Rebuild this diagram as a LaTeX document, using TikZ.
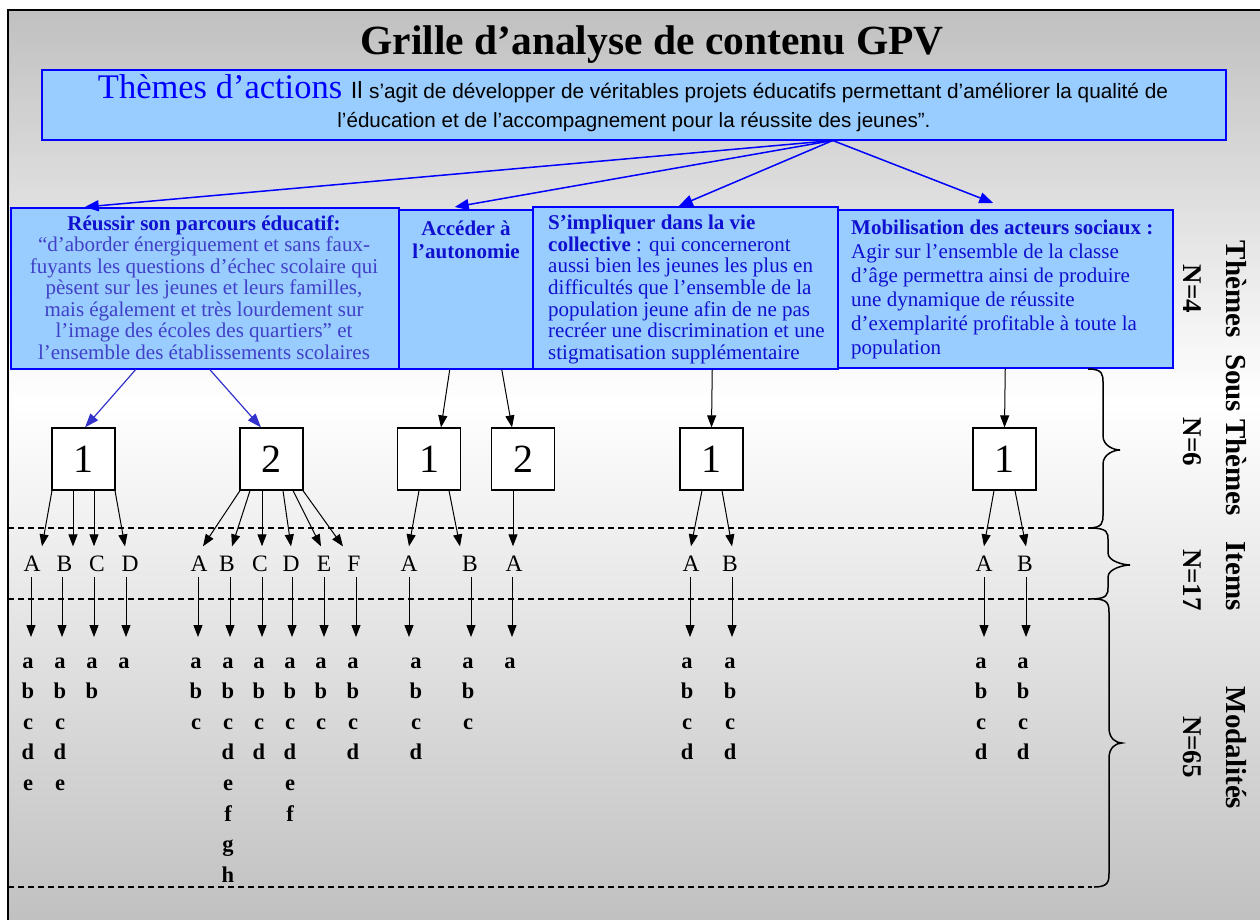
\documentclass[tikz,border=0pt]{standalone}
\usepackage{fontspec}
\setmainfont{Liberation Serif}
\newfontfamily\arialf{Liberation Sans}
\usetikzlibrary{arrows.meta,calc}
\definecolor{boxfill}{RGB}{153,204,255}
\definecolor{boxline}{RGB}{0,0,255}
\definecolor{deepblue}{RGB}{16,16,208}
\definecolor{softblue}{RGB}{64,64,200}
\definecolor{arrblue}{RGB}{51,51,204}
\definecolor{bggray}{RGB}{192,192,192}
\newcommand{\setfs}[2]{\fontsize{#1}{#2}\selectfont}
% x0 xs xt ytop ymid ybot r
\newcommand{\drawbrace}[7]{%
  \draw[bracestyle] (#1,#4) .. controls (#2,#4) and (#2,#4+#7*0.4) .. (#2,#4+#7)
    -- (#2,#5-#7) .. controls (#2,#5-#7*0.3) and (#3-6,#5) .. (#3,#5)
    .. controls (#3-6,#5) and (#2,#5+#7*0.3) .. (#2,#5+#7)
    -- (#2,#6-#7) .. controls (#2,#6-#7*0.4) and (#2,#6) .. (#1,#6);}
\tikzset{
  themebox/.style={draw=boxline, fill=boxfill, line width=1.5pt, inner sep=0pt, anchor=north west},
  subbox/.style={draw=black, fill=white, line width=1.2pt, minimum width=63pt, minimum height=62pt, inner sep=0pt, font=\setfs{40}{44}},
  itemlbl/.style={inner sep=0pt, anchor=base, font=\setfs{23.5}{26}},
  modlbl/.style={inner sep=0pt, anchor=base, font=\setfs{22.5}{26}\bfseries},
  blkarrow/.style={draw=black, line width=1pt, -{Triangle[length=12pt,width=9pt]}},
  bluearrow/.style={draw=boxline, line width=1.5pt, -{Triangle[length=14pt,width=11pt]}},
  subarrow/.style={draw=arrblue, line width=1.2pt, -{Triangle[length=14pt,width=10pt]}},
  sidelbl/.style={rotate=-90, inner sep=0pt, font=\setfs{29}{32}\bfseries},
  nlbl/.style={rotate=-90, inner sep=0pt, font=\setfs{27}{30}\bfseries},
  dashline/.style={dash pattern=on 6pt off 4pt, line width=1.2pt},
  bracestyle/.style={line width=1.5pt}
}
\begin{document}
\begin{tikzpicture}[x=1pt,y=-1pt]
\useasboundingbox (0,0) rectangle (1260,919);
\clip (0,0) rectangle (1260,919);
% background
\fill[top color=bggray, bottom color=white] (8,10) rectangle (1265,400);
\fill[top color=white, bottom color=bggray] (8,400) rectangle (1265,925);
\draw[line width=2.5pt] (8,930) -- (8,10) -- (1270,10);

% title
\node[anchor=base, inner sep=0pt, font=\setfs{41.5}{46}\bfseries] (title) at (652,54) {Grille d’analyse de contenu GPV};

% header box
\node[themebox, minimum width=1184pt, minimum height=70pt] (hdr) at (41,69) {};
\node[anchor=base, inner sep=0pt] (hdr1) at (633,98) {{\color{boxline}\setfs{34.5}{40}Thèmes d’actions }{\arialf\setfs{23.5}{26}Il }{\arialf\setfs{20.8}{24}s’agit de développer de véritables projets éducatifs permettant d’améliorer la qualité de}};
\node[anchor=base, inner sep=0pt, font=\arialf\setfs{20.6}{24}] (hdr2) at (634,127) {l’éducation et de l’accompagnement pour la réussite des jeunes”.};

% theme boxes
\node[themebox, minimum width=136pt, minimum height=159pt] (t2) at (398,209) {};
\node[themebox, minimum width=388pt, minimum height=161pt] (t1) at (10,207) {};
\node[themebox, minimum width=335pt, minimum height=158pt] (t4) at (837,209) {};
\node[themebox, minimum width=305pt, minimum height=162pt] (t3) at (532,206) {};

\node[anchor=north, inner sep=0pt, align=center, text=softblue, font=\setfs{21}{21.5}] (t1txt) at (204,215)
 {\strut{\color{deepblue}\bfseries Réussir son parcours éducatif:}\\
  “d’aborder énergiquement et sans faux-\\
  fuyants les questions d’échec scolaire qui\\
  pèsent sur les jeunes et leurs familles,\\
  mais également et très lourdement sur\\
  l’image des écoles des quartiers” et\\
  l’ensemble des établissements scolaires};
\node[anchor=north, inner sep=0pt, align=center, text=deepblue, font=\setfs{21}{23}\bfseries] (t2txt) at (466,218.9)
 {\strut Accéder à\\ l’autonomie};
\node[anchor=north west, inner sep=0pt, align=left, text=deepblue, font=\setfs{21}{21.7}] (t3txt) at (548,214)
 {\strut\textbf{S’impliquer dans la vie}\\
  \textbf{collective} : qui concerneront\\
  aussi bien les jeunes les plus en\\
  difficultés que l’ensemble de la\\
  population jeune afin de ne pas\\
  recréer une discrimination et une\\
  stigmatisation supplémentaire};
\node[anchor=north west, inner sep=0pt, align=left, text=deepblue, font=\setfs{21}{24}] (t4txt) at (851,217.2)
 {\strut\textbf{Mobilisation des acteurs sociaux :}\\
  Agir sur l’ensemble de la classe\\
  d’âge permettra ainsi de produire\\
  une dynamique de réussite\\
  d’exemplarité profitable à toute la\\
  population};

% header arrows
\draw[bluearrow] ([xshift=199pt]hdr.south) -- ([xshift=-120pt]t1.north);
\draw[bluearrow] ([xshift=199pt]hdr.south) -- ([xshift=-12pt,yshift=2pt]t2.north);
\draw[bluearrow] ([xshift=199pt]hdr.south) -- ([xshift=-6.5pt]t3.north);
\draw[bluearrow] ([xshift=199pt]hdr.south) -- ([xshift=-12pt,yshift=6pt]t4.north);

% sous-themes
\node[subbox] (S1) at (83.5,459) {1};
\node[subbox] (S2) at (271.5,459) {2};
\node[subbox] (S3) at (429,459) {1};
\node[subbox] (S4) at (523,459) {2};
\node[subbox] (S5) at (711.5,459) {1};
\node[subbox] (S6) at (1004.5,459) {1};

\draw[subarrow] ([xshift=-69pt]t1.south) -- ([xshift=1.5pt]S1.north);
\draw[subarrow] ([xshift=5pt]t1.south) -- ([xshift=-10.5pt]S2.north);
\draw[blkarrow] ([xshift=-17pt]t2.south) -- ([xshift=12pt]S3.north);
\draw[blkarrow] ([xshift=35pt]t2.south) -- ([xshift=-11pt]S4.north);
\draw[blkarrow] ([xshift=27pt]t3.south) -- (S5.north);
\draw[blkarrow] (t4.south) -- (S6.north);

% dashed separators
\draw[dashline] (8,528) -- (1090,528);
\draw[dashline] (8,599) -- (1090,599);
\draw[dashline] (8,887) -- (1092,887);

% items
\coordinate (tipc) at (0,637);
\foreach \n/\x/\l/\d in {g1A/32/A/-1, g1B/64.5/B/-2.5, g1C/97/C/-3, g1D/130/D/-4,
  g2A/199/A/-1, g2B/227/B/3, g2C/260/C/2, g2D/291/D/1, g2E/324/E/0, g2F/354/F/2,
  g3A/409/A/0, g3B/470/B/1, g4A/514/A/-2, g5A/691/A/-1, g5B/730/B/2, g6A/984/A/0, g6B/1025/B/1}
{
  \node[itemlbl] (\n) at (\x,571) {\l};
  \coordinate (\n-b) at ([xshift=\d pt]\n.south);
  \draw[blkarrow] ([yshift=-6pt]\n-b) -- (\n-b |- tipc);
}

% arrows sous-themes -> items
\foreach \s/\sd/\n/\td in {S1/-31.5/g1A/10, S1/-10.5/g1B/8.5, S1/10.5/g1C/-3, S1/31.5/g1D/-5,
  S2/-31.5/g2A/4, S2/-21.5/g2B/5, S2/-9.5/g2C/2, S2/11.5/g2D/0, S2/21.5/g2E/-3, S2/31.5/g2F/-11,
  S3/-10/g3A/0, S3/20/g3B/-10, S4/-10/g4A/-1, S5/-9.5/g5A/0, S5/10.5/g5B/2, S6/-10.5/g6A/0, S6/10.5/g6B/1}
{
  \draw[blkarrow] ([xshift=\sd pt]\s.south) -- ([xshift=\td pt, yshift=9pt]\n.north);
}

% modalites
\foreach \x/\ls in {28/{a,b,c,d,e}, 60/{a,b,c,d,e}, 92/{a,b}, 124/{a},
  196/{a,b,c}, 228/{a,b,c,d,e,f,g,h}, 259/{a,b,c,d}, 290/{a,b,c,d,e,f}, 321/{a,b,c}, 353/{a,b,c,d},
  416/{a,b,c,d}, 468/{a,b,c}, 510/{a}, 687/{a,b,c,d}, 730/{a,b,c,d}, 981/{a,b,c,d}, 1023/{a,b,c,d}}
{
  \foreach \l [count=\j] in \ls {
    \node[modlbl] (m\x\l) at (\x,{668+30.6*(\j-1)}) {\l};
  }
}

% braces
\drawbrace{1088}{1103}{1120}{369}{450}{528}{14}
\drawbrace{1090}{1108}{1130}{528}{565}{599}{12}
\drawbrace{1094}{1109}{1122}{599}{743}{887}{15}

% side labels
\node[sidelbl] (lthemes) at (1236,289) {Thèmes};
\node[sidelbl] (lsous) at (1236,435) {Sous Thèmes};
\node[sidelbl] (litems) at (1236,576) {Items};
\node[sidelbl] (lmod) at (1236,748) {Modalités};
\node[nlbl] (n4) at (1192,289) {N=4};
\node[nlbl] (n6) at (1192,442) {N=6};
\node[nlbl] (n17) at (1192,580) {N=17};
\node[nlbl] (n65) at (1192,747) {N=65};
\end{tikzpicture}
\end{document}
